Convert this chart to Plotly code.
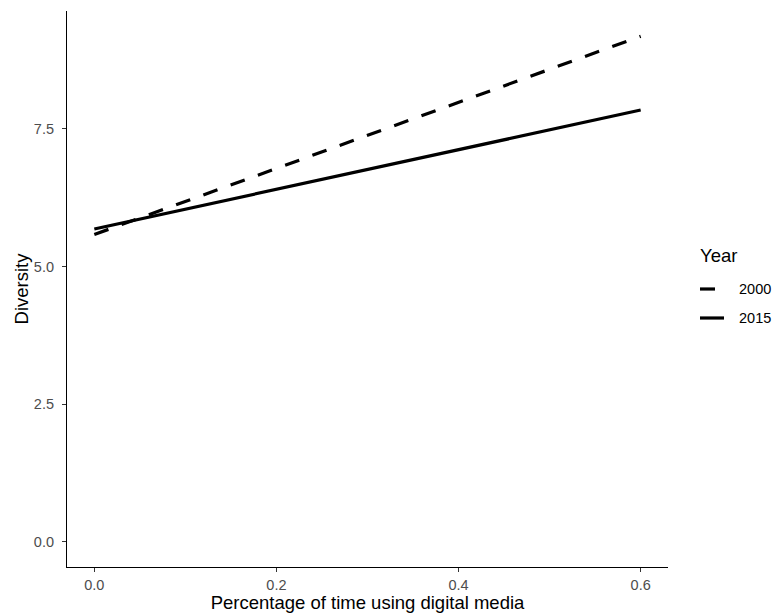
import plotly.graph_objects as go

# Data (fitted lines)
years = ["2000", "2015"]
x_vals = [0.0, 0.6]
div_2000 = [5.58, 9.18]
div_2015 = [5.68, 7.84]

x_ticks = [0.0, 0.2, 0.4, 0.6]
x_ticklabels = ["0.0", "0.2", "0.4", "0.6"]
y_ticks = [0.0, 2.5, 5.0, 7.5]
y_ticklabels = ["0.0", "2.5", "5.0", "7.5"]

FONT = "Liberation Sans, Arial, Helvetica, sans-serif"
DASH = "15px,14px"

fig = go.Figure()
fig.add_trace(go.Scatter(x=x_vals, y=div_2000, mode="lines", name=years[0],
                         line=dict(color="black", width=3.2, dash=DASH),
                         showlegend=False))
fig.add_trace(go.Scatter(x=x_vals, y=div_2015, mode="lines", name=years[1],
                         line=dict(color="black", width=3.2),
                         showlegend=False))

axis_common = dict(showgrid=False, zeroline=False, showline=True,
                   linecolor="black", linewidth=1.2, ticks="outside",
                   ticklen=4, tickwidth=1.1, tickcolor="#333333",
                   tickfont=dict(family=FONT, size=14.5, color="#4D4D4D"),
                   mirror=False, automargin=False)

fig.update_layout(
    width=774, height=614,
    margin=dict(l=67, r=106, t=11, b=47),
    paper_bgcolor="white", plot_bgcolor="white",
    font=dict(family=FONT),
    xaxis=dict(range=[-0.03, 0.63], tickvals=x_ticks, ticktext=x_ticklabels,
               ticklabelstandoff=0,
               title=dict(text="Percentage of time using digital media",
                          font=dict(family=FONT, size=18.5, color="black"),
                          standoff=4),
               **axis_common),
    yaxis=dict(range=[-0.459, 9.639], tickvals=y_ticks, ticktext=y_ticklabels,
               ticklabelstandoff=5,
               title=dict(text="Diversity",
                          font=dict(family=FONT, size=18.5, color="black"),
                          standoff=0),
               **axis_common),
)

# Manual legend (ggplot style)
fig.add_annotation(text="Year", xref="paper", yref="paper",
                   x=(698 - 67) / 601, y=(567 - 255) / 556, xanchor="left",
                   yanchor="middle", showarrow=False,
                   font=dict(family=FONT, size=18.5, color="black"))
key_y = [289, 318]
styles = [DASH, "solid"]
for lbl, ky, st in zip(years, key_y, styles):
    yp = (567 - ky) / 556
    fig.add_shape(type="line", xref="paper", yref="paper",
                  x0=(700 - 67) / 601, x1=(724 - 67) / 601, y0=yp, y1=yp,
                  line=dict(color="black", width=3.2, dash=st))
    fig.add_annotation(text=lbl, xref="paper", yref="paper",
                       x=(737 - 67) / 601, y=yp, xanchor="left",
                       yanchor="middle", showarrow=False,
                       font=dict(family=FONT, size=14.5, color="black"))

fig.write_html(
    "out.html",
    config={"displayModeBar": False},
    post_script="document.documentElement.style.margin='0';"
                "document.body.style.margin='0';"
                "document.body.style.padding='0';",
)
